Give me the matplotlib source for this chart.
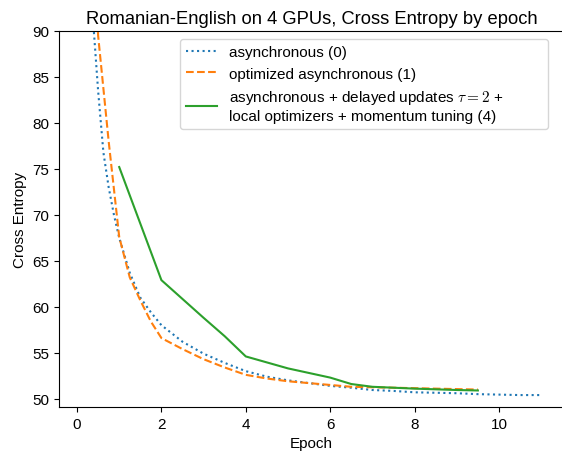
import numpy as np
import matplotlib
matplotlib.use("Agg")
import matplotlib.pyplot as plt

plt.rcParams['font.family'] = ['Liberation Sans', 'DejaVu Sans']
plt.rcParams['mathtext.fontset'] = 'cm'
plt.rcParams['font.size'] = 11

# asynchronous (0)
ep_async = [0.125, 0.25, 0.375, 0.5, 0.625, 0.75, 0.875, 1.0, 1.25, 1.5, 1.75, 2.0,
            2.5, 3.0, 3.5, 4.0, 4.5, 5.0, 5.5, 6.0, 6.5, 7.0, 7.5, 8.0, 8.5, 9.0,
            9.5, 10.0, 10.5, 11.0]
ce_async = [130, 105, 91.5, 83.5, 76.8, 73.0, 70.0, 67.5, 63.7, 61.0, 59.4, 58.0,
            56.2, 54.9, 53.9, 53.0, 52.4, 52.0, 51.7, 51.4, 51.2, 50.95, 50.85, 50.7,
            50.65, 50.6, 50.5, 50.45, 50.4, 50.4]

# optimized asynchronous (1)
ep_opt = [0.25, 0.5, 0.75, 1.0, 1.25, 1.5, 1.75, 2.0, 2.5, 3.0, 3.5, 4.0, 4.5, 5.0,
          5.5, 6.0, 6.5, 7.0, 7.5, 8.0, 8.5, 9.0, 9.5]
ce_opt = [120, 89.5, 78.0, 67.6, 63.2, 60.7, 58.4, 56.6, 55.4, 54.3, 53.4, 52.6,
          52.2, 51.9, 51.7, 51.5, 51.3, 51.25, 51.2, 51.15, 51.1, 51.05, 51.0]

# delayed updates + local optimizers + momentum tuning (4)
ep_del = [1.0, 2.0, 3.0, 3.5, 4.0, 5.0, 6.0, 6.5, 7.0, 8.0, 9.0, 9.5]
ce_del = [75.2, 62.9, 58.8, 56.8, 54.6, 53.3, 52.3, 51.6, 51.3, 51.1, 50.95, 50.9]

fig = plt.figure(figsize=(5.62, 4.52), dpi=100)
ax = fig.add_axes([0.1055, 0.0973, 0.898, 0.832])

ax.plot(ep_async, ce_async, ':', color='tab:blue', label='asynchronous (0)')
ax.plot(ep_opt, ce_opt, '--', color='tab:orange', label='optimized asynchronous (1)')
ax.plot(ep_del, ce_del, '-', color='tab:green',
        label='asynchronous + delayed updates $\\tau = 2$ +\nlocal optimizers + momentum tuning (4)')

ax.set_xlim(-0.42, 11.54)
ax.set_ylim(49.1, 90)
ax.set_xticks([0, 2, 4, 6, 8, 10])
ax.set_yticks([50, 55, 60, 65, 70, 75, 80, 85, 90])
ax.set_xlabel('Epoch')
ax.set_ylabel('Cross Entropy')
ax.set_title('Romanian-English on 4 GPUs, Cross Entropy by epoch', fontsize=13.2)

# legend box is wider than its text in the original, so stretch it
ax.legend(loc='upper left', mode='expand',
          bbox_to_anchor=(180 / 562, 412 / 452, 368 / 562, 0.0),
          bbox_transform=fig.transFigure, borderaxespad=0)

fig.savefig('out.png', dpi=100)
